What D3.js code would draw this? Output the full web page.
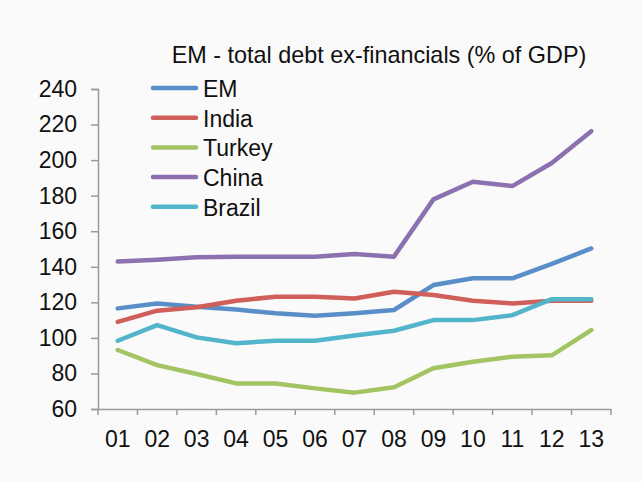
<!DOCTYPE html>
<html><head><meta charset="utf-8">
<script src="https://cdn.jsdelivr.net/npm/d3@7"></script>
<style>
html,body{margin:0;padding:0;background:#fafafa;}
svg{display:block;font-family:"Liberation Sans",Arial,sans-serif;}
</style></head>
<body><svg id="c" width="643" height="482"></svg>
<script>
const years = ["01","02","03","04","05","06","07","08","09","10","11","12","13"];
const yTicks = [60,80,100,120,140,160,180,200,220,240];
const seriesNames = ["EM","India","Turkey","China","Brazil"];
const seriesColors = ["#5a8ec9","#cf5f58","#a2c462","#8b71af","#52b5cc"];
const emValues = [116.6,119.4,117.5,116,113.8,112.5,113.9,115.7,129.7,133.5,133.5,141.6,150.3];
const indiaValues = [109,115.3,117.2,120.9,123.2,123.2,122.2,126,124.1,120.9,119.4,120.9,120.9];
const turkeyValues = [93.2,84.7,79.7,74.4,74.4,71.6,69.2,72.2,82.9,86.6,89.4,90.2,104.4];
const chinaValues = [142.9,144,145.4,145.6,145.6,145.6,147.2,145.7,177.9,187.8,185.4,198.4,216.3];
const brazilValues = [98.4,107.2,100.3,97,98.4,98.4,101.4,104,110,110,112.8,121.8,121.8];
const allValues = [emValues,indiaValues,turkeyValues,chinaValues,brazilValues];

(function(){
const svg = d3.select("#c");
const pl = 98, pr = 611, pt = 89, pb = 409;
const x = d3.scaleBand().domain(years).range([pl,pr]);
const y = d3.scaleLinear().domain([60,240]).range([pb,pt]);

const axisColor = "#9a9a9a";
const ya = svg.append("g").attr("transform",`translate(${pl},0)`)
  .call(d3.axisLeft(y).tickValues(yTicks).tickSize(7).tickPadding(14));
ya.select(".domain").attr("stroke",axisColor).attr("stroke-width",1.5);
ya.selectAll(".tick line").attr("stroke",axisColor).attr("stroke-width",1.5);
ya.selectAll("text").attr("font-size",23).attr("fill","#111").attr("font-family","Liberation Sans, Arial, sans-serif");

const xa = svg.append("g").attr("transform",`translate(0,${pb})`)
  .call(d3.axisBottom(x).tickSize(0).tickPadding(22));
xa.select(".domain").attr("stroke",axisColor).attr("stroke-width",1.5);
xa.selectAll("text").attr("font-size",23).attr("fill","#111").attr("font-family","Liberation Sans, Arial, sans-serif");
const bounds = years.map(d=>x(d)).concat([x(years[years.length-1])+x.bandwidth()]);
svg.append("g").selectAll("line").data(bounds).join("line")
  .attr("x1",d=>d).attr("x2",d=>d).attr("y1",pb).attr("y2",pb+6)
  .attr("stroke",axisColor).attr("stroke-width",1.5);

const line = d3.line().x((d,i)=>x(years[i])+x.bandwidth()/2).y(d=>y(d));
svg.append("g").selectAll("path").data(allValues).join("path")
  .attr("d",line).attr("fill","none")
  .attr("stroke",(d,i)=>seriesColors[i]).attr("stroke-width",4.5)
  .attr("stroke-linejoin","round").attr("stroke-linecap","round");

svg.append("text").attr("x",379).attr("y",63).attr("text-anchor","middle")
  .attr("font-size",23.4).attr("fill","#111").text("EM - total debt ex-financials (% of GDP)");

const lg = svg.append("g");
seriesNames.forEach((n,i)=>{
  const yy = 88 + i*29.7;
  lg.append("line").attr("x1",153).attr("x2",196).attr("y1",yy).attr("y2",yy)
    .attr("stroke",seriesColors[i]).attr("stroke-width",4.5).attr("stroke-linecap","round");
  lg.append("text").attr("x",203).attr("y",yy+9).attr("font-size",23).attr("fill","#111").text(n);
});
})();
</script></body></html>
